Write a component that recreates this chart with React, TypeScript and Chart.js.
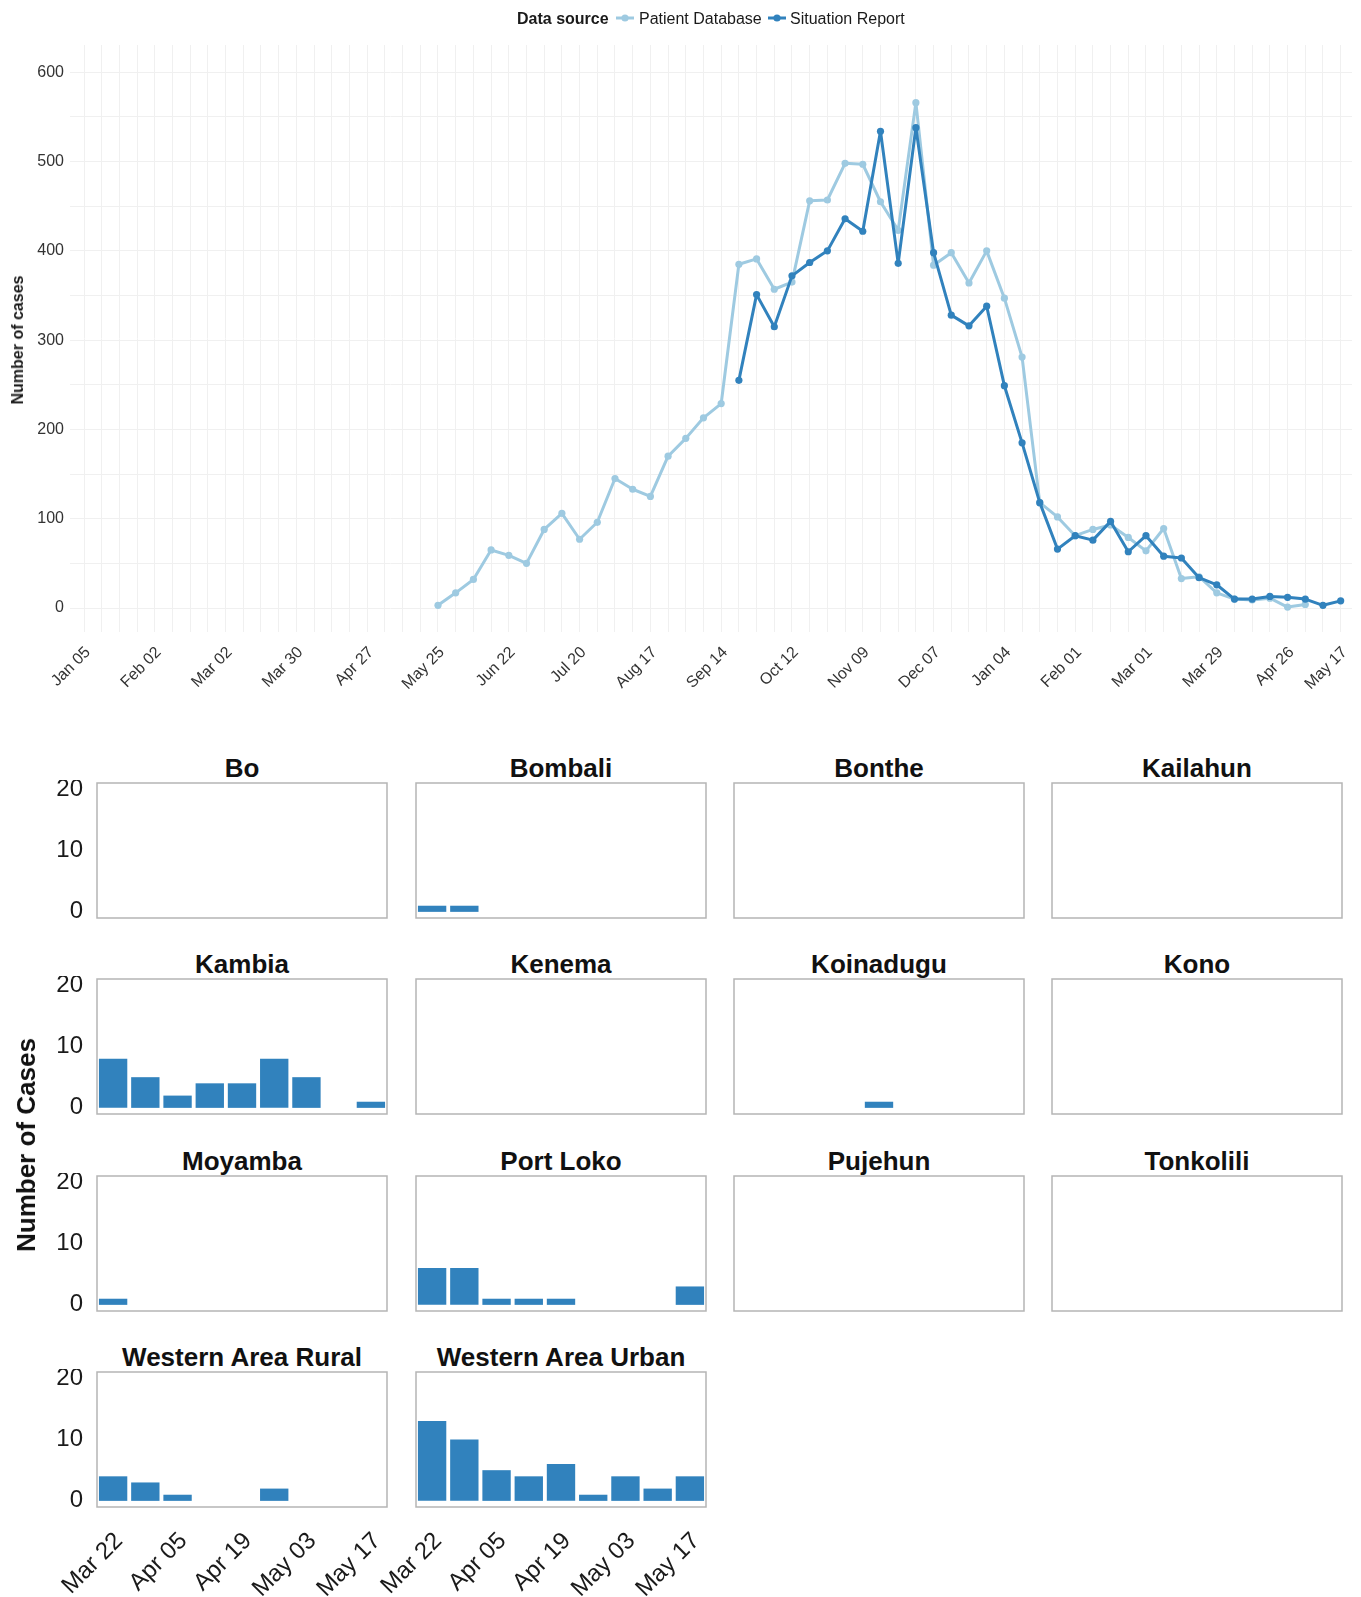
import React, { useEffect, useRef } from 'react';
import { Chart, registerables } from 'chart.js';

Chart.register(...registerables);

const FONT = '"Liberation Sans", Arial, Helvetica, sans-serif';
const LIGHT = '#9ECAE1';
const DARK = '#3182BD';
const GRID = '#F0F0F0';

// ---------- Top chart data ----------
const weekLabels = [
  'Jan 05', 'Jan 12', 'Jan 19', 'Jan 26', 'Feb 02', 'Feb 09', 'Feb 16', 'Feb 23',
  'Mar 02', 'Mar 09', 'Mar 16', 'Mar 23', 'Mar 30', 'Apr 06', 'Apr 13', 'Apr 20',
  'Apr 27', 'May 04', 'May 11', 'May 18', 'May 25', 'Jun 01', 'Jun 08', 'Jun 15',
  'Jun 22', 'Jun 29', 'Jul 06', 'Jul 13', 'Jul 20', 'Jul 27', 'Aug 03', 'Aug 10',
  'Aug 17', 'Aug 24', 'Aug 31', 'Sep 07', 'Sep 14', 'Sep 21', 'Sep 28', 'Oct 05',
  'Oct 12', 'Oct 19', 'Oct 26', 'Nov 02', 'Nov 09', 'Nov 16', 'Nov 23', 'Nov 30',
  'Dec 07', 'Dec 14', 'Dec 21', 'Dec 28', 'Jan 04', 'Jan 11', 'Jan 18', 'Jan 25',
  'Feb 01', 'Feb 08', 'Feb 15', 'Feb 22', 'Mar 01', 'Mar 08', 'Mar 15', 'Mar 22',
  'Mar 29', 'Apr 05', 'Apr 12', 'Apr 19', 'Apr 26', 'May 03', 'May 10', 'May 17',
];
const labelledWeekLabels = [
  'Jan 05', 'Feb 02', 'Mar 02', 'Mar 30', 'Apr 27', 'May 25', 'Jun 22', 'Jul 20',
  'Aug 17', 'Sep 14', 'Oct 12', 'Nov 09', 'Dec 07', 'Jan 04', 'Feb 01', 'Mar 01',
  'Mar 29', 'Apr 26', 'May 17',
];
const labelledWeekIndex = [0, 4, 8, 12, 16, 20, 24, 28, 32, 36, 40, 44, 48, 52, 56, 60, 64, 68, 71];

const patientStartWeek = 20; // May 25
const patientDatabase = [
  3, 17, 32, 65, 59, 50, 88, 106, 77, 96,
  145, 133, 125, 170, 190, 213, 229, 385, 391, 357,
  365, 456, 457, 498, 497, 455, 423, 566, 384, 398,
  364, 400, 347, 281, 118, 102, 81, 88, 93, 79,
  64, 89, 33, 35, 17, 10, 9, 11, 1, 4,
];

const situationStartWeek = 37; // Sep 21
const situationReport = [
  255, 351, 315, 372, 387, 400, 436, 422, 534, 386,
  538, 398, 328, 316, 338, 249, 185, 118, 66, 81,
  76, 97, 63, 81, 58, 56, 34, 26, 10, 10,
  13, 12, 10, 3, 8,
];

const yGridTop = [0, 50, 100, 150, 200, 250, 300, 350, 400, 450, 500, 550, 600];
const yTickLabelsTop = [0, 100, 200, 300, 400, 500, 600];

// ---------- District panels data ----------
const districtWeeks = ['Mar 22', 'Mar 29', 'Apr 05', 'Apr 12', 'Apr 19', 'Apr 26', 'May 03', 'May 10', 'May 17'];
const districtTickLabels = ['Mar 22', 'Apr 05', 'Apr 19', 'May 03', 'May 17'];
const districtYTicks = [0, 10, 20];

const boCases = [0, 0, 0, 0, 0, 0, 0, 0, 0];
const bombaliCases = [1, 1, 0, 0, 0, 0, 0, 0, 0];
const bontheCases = [0, 0, 0, 0, 0, 0, 0, 0, 0];
const kailahunCases = [0, 0, 0, 0, 0, 0, 0, 0, 0];
const kambiaCases = [8, 5, 2, 4, 4, 8, 5, 0, 1];
const kenemaCases = [0, 0, 0, 0, 0, 0, 0, 0, 0];
const koinaduguCases = [0, 0, 0, 0, 1, 0, 0, 0, 0];
const konoCases = [0, 0, 0, 0, 0, 0, 0, 0, 0];
const moyambaCases = [1, 0, 0, 0, 0, 0, 0, 0, 0];
const portLokoCases = [6, 6, 1, 1, 1, 0, 0, 0, 3];
const pujehunCases = [0, 0, 0, 0, 0, 0, 0, 0, 0];
const tonkoliliCases = [0, 0, 0, 0, 0, 0, 0, 0, 0];
const westernRuralCases = [4, 3, 1, 0, 0, 2, 0, 0, 0];
const westernUrbanCases = [13, 10, 5, 4, 6, 1, 4, 2, 4];

const districtNames = [
  'Bo', 'Bombali', 'Bonthe', 'Kailahun',
  'Kambia', 'Kenema', 'Koinadugu', 'Kono',
  'Moyamba', 'Port Loko', 'Pujehun', 'Tonkolili',
  'Western Area Rural', 'Western Area Urban',
];
const districtValues = [
  boCases, bombaliCases, bontheCases, kailahunCases,
  kambiaCases, kenemaCases, koinaduguCases, konoCases,
  moyambaCases, portLokoCases, pujehunCases, tonkoliliCases,
  westernRuralCases, westernUrbanCases,
];

// ---------- Layout ----------
const COL_LEFT = [97, 416, 734, 1052];
const ROW_TOP = [783, 979, 1176, 1372];
const PANEL_W = 290;
const PANEL_H = 135;

const panelBorder = {
  id: 'panelBorder',
  afterDraw(chart: any) {
    const { ctx, chartArea: a } = chart;
    ctx.save();
    ctx.strokeStyle = '#B5B5B5';
    ctx.lineWidth = 1.5;
    ctx.strokeRect(a.left, a.top, a.right - a.left, a.bottom - a.top);
    ctx.restore();
  },
};

const noPad = (s: any) => {
  s.paddingLeft = 0;
  s.paddingRight = 0;
  s.paddingTop = 0;
  s.paddingBottom = 0;
};

function TrendChart() {
  const ref = useRef<HTMLCanvasElement>(null);
  useEffect(() => {
    const pointsOf = (start: number, arr: number[]) => arr.map((v, i) => ({ x: start + i, y: v }));
    const chart = new Chart(ref.current as HTMLCanvasElement, {
      type: 'line',
      data: {
        datasets: [
          {
            label: 'Patient Database',
            data: pointsOf(patientStartWeek, patientDatabase),
            borderColor: LIGHT,
            backgroundColor: LIGHT,
            pointBackgroundColor: LIGHT,
            pointBorderWidth: 0,
            pointRadius: 3.6,
            borderWidth: 3,
            borderJoinStyle: 'round',
            tension: 0,
            order: 2,
          },
          {
            label: 'Situation Report',
            data: pointsOf(situationStartWeek, situationReport),
            borderColor: DARK,
            backgroundColor: DARK,
            pointBackgroundColor: DARK,
            pointBorderWidth: 0,
            pointRadius: 3.6,
            borderWidth: 3,
            borderJoinStyle: 'round',
            tension: 0,
            order: 1,
          },
        ],
      },
      options: {
        responsive: false,
        maintainAspectRatio: false,
        animation: false,
        layout: { padding: { top: 45, right: 9, left: 0, bottom: 0 } },
        plugins: { legend: { display: false }, tooltip: { enabled: false } },
        scales: {
          x: {
            type: 'linear',
            min: -0.791,
            max: 71.64,
            afterBuildTicks: (s: any) => {
              s.ticks = weekLabels.map((_, i) => ({ value: i }));
            },
            afterFit: (s: any) => {
              s.height = 68;
              noPad(s);
            },
            grid: { color: GRID, lineWidth: 1, drawTicks: false },
            border: { display: false },
            ticks: {
              autoSkip: false,
              maxRotation: 45,
              minRotation: 45,
              padding: 11,
              labelOffset: 4,
              color: '#333333',
              font: { family: FONT, size: 16 },
              callback: (v: any) => {
                const k = labelledWeekIndex.indexOf(Number(v));
                return k >= 0 ? labelledWeekLabels[k] : '';
              },
            },
          },
          y: {
            type: 'linear',
            min: -26.88,
            max: 630.58,
            afterBuildTicks: (s: any) => {
              s.ticks = yGridTop.map((v) => ({ value: v }));
            },
            afterFit: (s: any) => {
              s.width = 70;
              noPad(s);
            },
            grid: { color: GRID, lineWidth: 1, drawTicks: false },
            border: { display: false },
            ticks: {
              padding: 6,
              color: '#333333',
              font: { family: FONT, size: 16 },
              callback: (v: any) => (yTickLabelsTop.includes(Number(v)) ? String(v) : ''),
            },
          },
        },
      },
    });
    return () => chart.destroy();
  }, []);
  return (
    <canvas
      ref={ref}
      width={1361}
      height={700}
      style={{ position: 'absolute', left: 0, top: 0, width: 1361, height: 700 }}
    />
  );
}

function DistrictPanel(props: { name: string; values: number[]; col: number; row: number; showY: boolean; showX: boolean }) {
  const { name, values, col, row, showY, showX } = props;
  const ref = useRef<HTMLCanvasElement>(null);
  const yW = showY ? 60 : 0;
  const xH = showX ? 110 : 0;
  const pad = 3;
  const extraLeft = showX && !showY ? 70 : 0;
  const left = COL_LEFT[col] - yW - pad - extraLeft;
  const top = ROW_TOP[row] - pad;
  const w = yW + PANEL_W + pad * 2 + extraLeft;
  const h = PANEL_H + xH + pad * 2;

  useEffect(() => {
    const chart = new Chart(ref.current as HTMLCanvasElement, {
      type: 'bar',
      data: {
        labels: districtWeeks,
        datasets: [
          {
            label: name,
            data: values,
            backgroundColor: DARK,
            borderWidth: 0,
            barPercentage: 0.88,
            categoryPercentage: 1,
          },
        ],
      },
      options: {
        responsive: false,
        maintainAspectRatio: false,
        animation: false,
        layout: { padding: { left: pad + extraLeft, right: pad, top: pad, bottom: pad } },
        plugins: { legend: { display: false }, tooltip: { enabled: false } },
        scales: {
          x: {
            display: showX,
            offset: true,
            grid: { display: false, drawTicks: false },
            border: { display: false },
            afterFit: (s: any) => {
              s.height = xH;
              noPad(s);
            },
            ticks: {
              autoSkip: false,
              maxRotation: 45,
              minRotation: 45,
              padding: 20,
              labelOffset: 6,
              color: '#1a1a1a',
              font: { family: FONT, size: 24 },
              callback: (_v: any, i: number) =>
                districtTickLabels.includes(districtWeeks[i]) ? districtWeeks[i] : '',
            },
          },
          y: {
            display: showY,
            min: -1,
            max: 21,
            grid: { display: false, drawTicks: false },
            border: { display: false },
            afterBuildTicks: (s: any) => {
              s.ticks = districtYTicks.map((v) => ({ value: v }));
            },
            afterFit: (s: any) => {
              s.width = yW;
              noPad(s);
            },
            ticks: {
              padding: 14,
              color: '#1a1a1a',
              font: { family: FONT, size: 24 },
            },
          },
        },
      },
      plugins: [panelBorder],
    });
    return () => chart.destroy();
  }, []);

  return (
    <>
      <div
        style={{
          position: 'absolute',
          left: COL_LEFT[col],
          width: PANEL_W,
          top: ROW_TOP[row] - 28.4,
          textAlign: 'center',
          font: `bold 26px ${FONT}`,
          lineHeight: '26px',
          color: '#111',
          whiteSpace: 'nowrap',
        }}
      >
        {name}
      </div>
      <canvas
        ref={ref}
        width={w}
        height={h}
        style={{ position: 'absolute', left, top, width: w, height: h }}
      />
    </>
  );
}

function LegendKey({ color, left }: { color: string; left: number }) {
  return (
    <svg style={{ position: 'absolute', left, top: 12.3 }} width={18} height={12}>
      <line x1={0} y1={6} x2={18} y2={6} stroke={color} strokeWidth={3} />
      <circle cx={9} cy={6} r={3.6} fill={color} />
    </svg>
  );
}

export default function App() {
  const textBase = { position: 'absolute' as const, top: 10.5, font: `16px ${FONT}`, lineHeight: '16px', color: '#1a1a1a', whiteSpace: 'nowrap' as const };
  return (
    <div style={{ position: 'absolute', left: 0, top: 0, width: 1361, height: 1597, background: '#fff', overflow: 'hidden' }}>
      <TrendChart />
      <div style={{ ...textBase, left: 517, font: `bold 16px ${FONT}` }}>Data source</div>
      <LegendKey color={LIGHT} left={616} />
      <div style={{ ...textBase, left: 639 }}>Patient Database</div>
      <LegendKey color={DARK} left={768} />
      <div style={{ ...textBase, left: 790 }}>Situation Report</div>
      <div
        style={{
          position: 'absolute',
          left: 18.3,
          top: 340,
          transform: 'translate(-50%, -50%) rotate(-90deg)',
          font: `bold 16px ${FONT}`,
          lineHeight: '16px',
          color: '#1a1a1a',
          whiteSpace: 'nowrap',
        }}
      >
        Number of cases
      </div>
      {districtNames.map((name, i) => {
        const row = Math.floor(i / 4);
        const col = i % 4;
        return (
          <DistrictPanel
            key={name}
            name={name}
            values={districtValues[i]}
            col={col}
            row={row}
            showY={col === 0}
            showX={row === 3}
          />
        );
      })}
      <div
        style={{
          position: 'absolute',
          left: 26,
          top: 1145,
          transform: 'translate(-50%, -50%) rotate(-90deg)',
          font: `bold 26px ${FONT}`,
          lineHeight: '26px',
          color: '#111',
          whiteSpace: 'nowrap',
        }}
      >
        Number of Cases
      </div>
    </div>
  );
}
